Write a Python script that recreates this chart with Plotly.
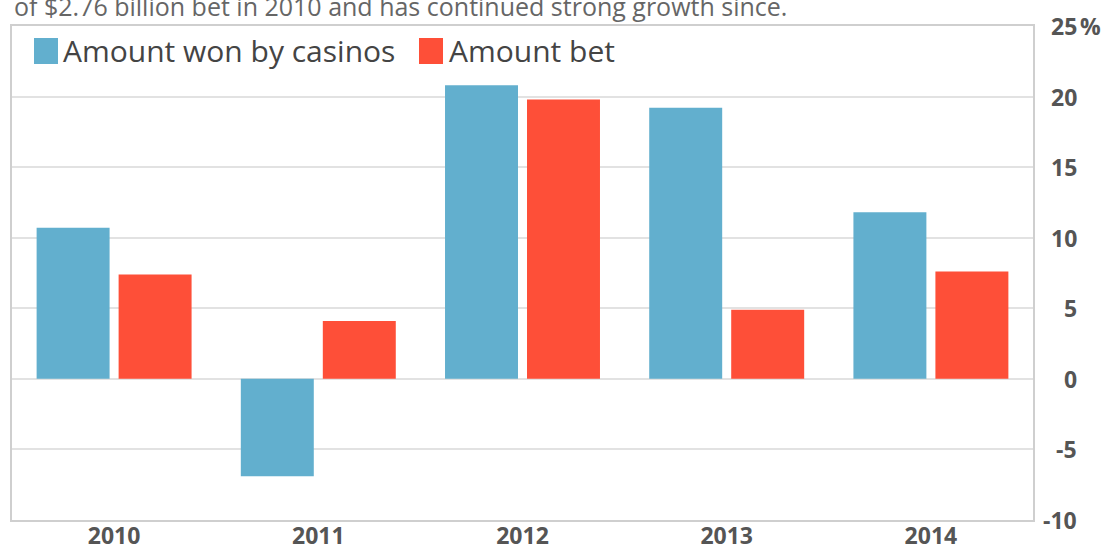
import plotly.graph_objects as go

years = ["2010", "2011", "2012", "2013", "2014"]
won_by_casinos = [10.7, -6.9, 20.8, 19.2, 11.8]
amount_bet = [7.4, 4.1, 19.8, 4.9, 7.6]
series_names = ["Amount won by casinos", "Amount bet"]
series_colors = ["#62AFCE", "#FE4F38"]
ytick_vals = [25, 20, 15, 10, 5, 0, -5, -10]
ytick_labels = ["25", "20", "15", "10", "5", "0", "-5", "-10"]
subtitle = "of $2.76 billion bet in 2010 and has continued strong growth since."

W, H = 1102, 552
L, R, T, B = 12, 69, 26, 32
pw, ph = W - L - R, H - T - B

def px_x(px):
    return (px - L) / pw

def px_y(py):
    return (H - B - py) / ph

fig = go.Figure()
for name, vals, col in zip(series_names, [won_by_casinos, amount_bet], series_colors):
    fig.add_trace(go.Bar(x=years, y=vals, name=name, marker=dict(color=col, line=dict(width=0)),
                         showlegend=False))

font_family = "Open Sans"
annotations = []
# right-aligned y tick labels
for v, lab in zip(ytick_vals, ytick_labels):
    annotations.append(dict(x=px_x(1079), y=v, xref="paper", yref="y", text=lab,
                            xanchor="right", yanchor="middle", showarrow=False,
                            font=dict(family=font_family, size=23, color="#555", weight="bold")))
    if v == ytick_vals[0]:
        annotations.append(dict(x=px_x(1078), y=v, xref="paper", yref="y", text="%",
                                xanchor="left", yanchor="middle", showarrow=False,
                                font=dict(family=font_family, size=23, color="#555", weight="bold")))

# subtitle (cut off at top, as in the reference)
annotations.append(dict(x=px_x(12), y=px_y(6), xref="paper", yref="paper", text=subtitle,
                        xanchor="left", yanchor="middle", showarrow=False,
                        font=dict(family=font_family, size=25, color="#666")))

# legend
shapes = []
legend_items = [(series_names[0], series_colors[0], 34, 63), (series_names[1], series_colors[1], 419, 449)]
for name, col, sx, tx in legend_items:
    shapes.append(dict(type="rect", xref="paper", yref="paper",
                       x0=px_x(sx), x1=px_x(sx + 24), y0=px_y(64), y1=px_y(38),
                       fillcolor=col, line=dict(width=0)))
    annotations.append(dict(x=px_x(tx - 2), y=px_y(51), xref="paper", yref="paper", text=name,
                            xanchor="left", yanchor="middle", showarrow=False,
                            font=dict(family=font_family, size=30, color="#444")))

fig.update_layout(
    width=W, height=H,
    margin=dict(l=L, r=R, t=T, b=B, autoexpand=False),
    paper_bgcolor="white", plot_bgcolor="white",
    barmode="group", bargap=0.197, bargroupgap=0.11,
    annotations=annotations, shapes=shapes,
    xaxis=dict(type="category", showgrid=False, showline=True, mirror=True, automargin=False,
               linecolor="#cfcfcf", linewidth=2, ticks="", zeroline=False, ticklabelstandoff=-6,
               tickfont=dict(family=font_family, size=23, color="#555", weight="bold")),
    yaxis=dict(range=[-10, 25], side="right", tickvals=ytick_vals, showticklabels=False,
               automargin=False,
               showgrid=True, gridcolor="#e2e2e2", gridwidth=1.5,
               showline=True, mirror=True, linecolor="#cfcfcf", linewidth=2,
               zeroline=False, ticks=""),
)

fig.write_html("out.html")
